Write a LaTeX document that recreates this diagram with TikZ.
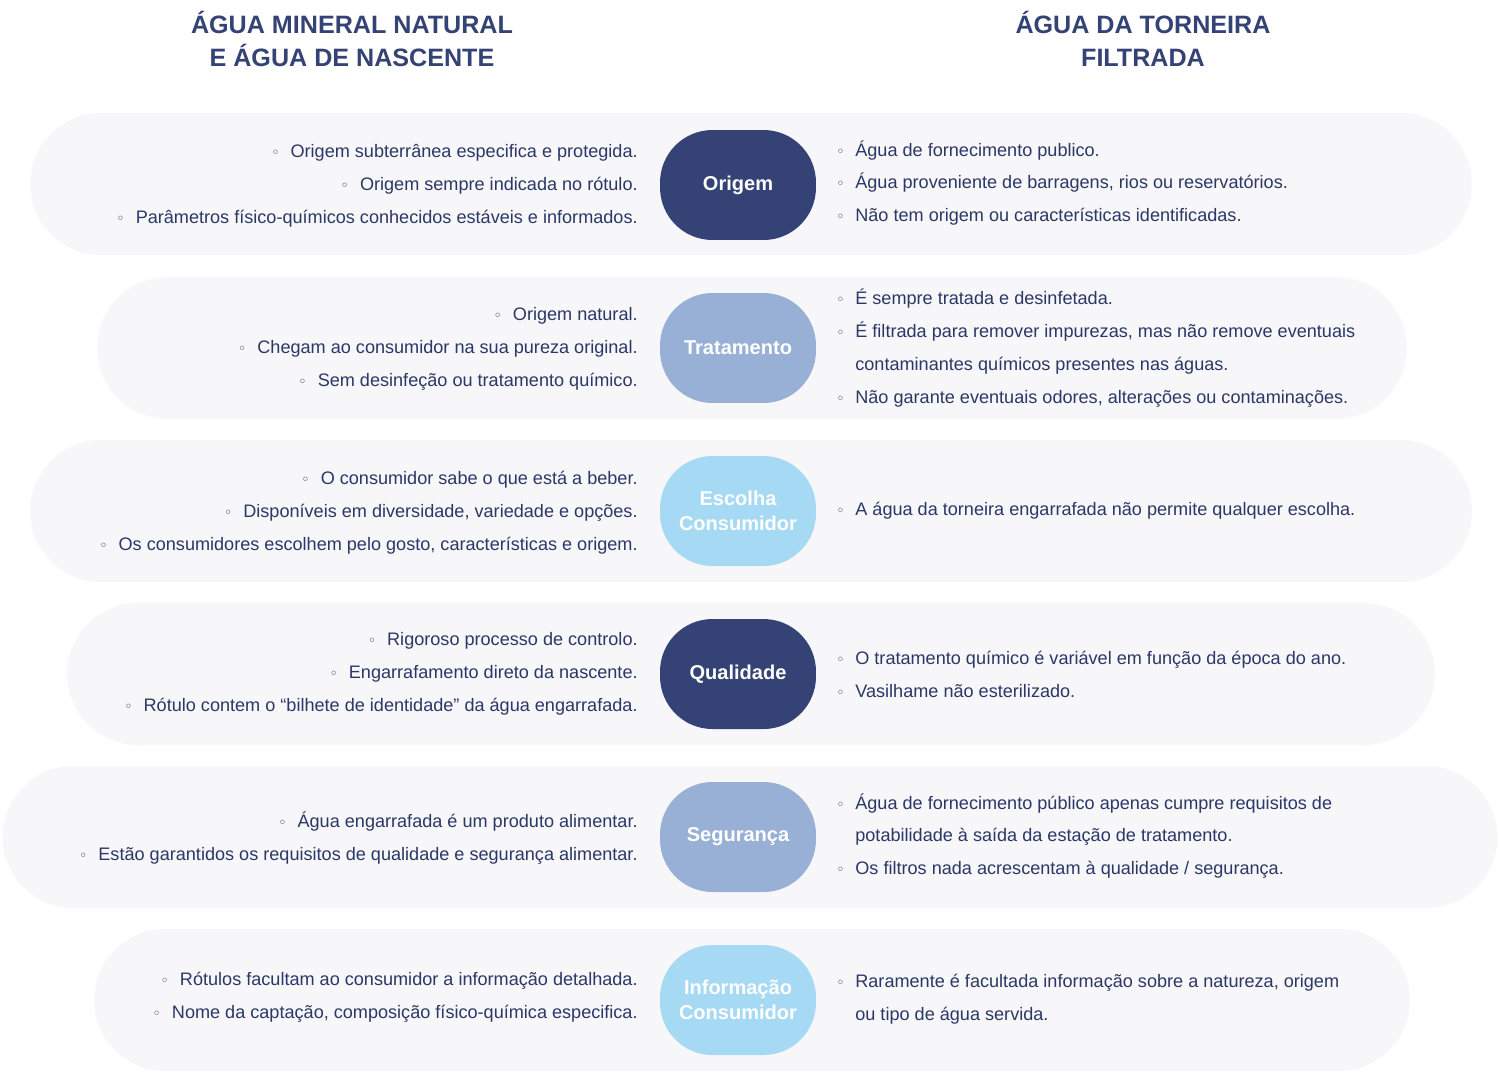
\documentclass[tikz,border=0pt]{standalone}
\usepackage{fontspec}
\setmainfont{Liberation Sans}
\newfontfamily\bulfont{DejaVu Sans}
\usetikzlibrary{positioning}

\definecolor{navy}{HTML}{344275}
\definecolor{steel}{HTML}{98B0D6}
\definecolor{sky}{HTML}{A6D9F3}
\definecolor{pillgray}{HTML}{F7F7FA}
\definecolor{txtnavy}{HTML}{2B3766}

% small open bullet
\newcommand{\bul}{{\bulfont\fontsize{8}{8}\selectfont ◦}}
\newcommand{\lbul}{\bul\hspace{0.22cm}}
\newcommand{\rbul}{\makebox[0.38cm][l]{\bul}}
\newcommand{\rgap}{\hspace*{0.38cm}}

\begin{document}
\begin{tikzpicture}[x=0.02cm, y=-0.02cm,
  pill/.style={fill=pillgray, rounded corners=1.42cm, minimum height=2.84cm, inner sep=0pt},
  topic/.style={rounded corners=1.05cm, minimum width=3.12cm, minimum height=2.2cm, inner sep=0pt,
    text=white, align=center, font=\fontsize{11.4}{14.2}\selectfont\bfseries},
  lefttxt/.style={anchor=east, align=right, inner sep=0pt, text=txtnavy, font=\fontsize{10.3}{18.7}\selectfont},
  righttxt/.style={anchor=west, align=left, inner sep=0pt, text=txtnavy, font=\fontsize{10.3}{18.7}\selectfont},
  heading/.style={align=center, text=navy, font=\fontsize{14.3}{18.7}\selectfont\bfseries}]
\useasboundingbox[fill=white] (0,0) rectangle (1500,1079);

% column headings
\node[heading] (headL) at (352,39) {ÁGUA MINERAL NATURAL\\E ÁGUA DE NASCENTE};
\node[heading] (headR) at (1143,39) {ÁGUA DA TORNEIRA\\FILTRADA};

% background bands
\node[pill, minimum width=28.84cm] (band1) at (751,184) {};
\node[pill, minimum width=26.2cm] (band2) at (752,348) {};
\node[pill, minimum width=28.84cm] (band3) at (751,511) {};
\node[pill, minimum width=27.36cm] (band4) at (751,674) {};
\node[pill, minimum width=29.9cm] (band5) at (750,837) {};
\node[pill, minimum width=26.32cm] (band6) at (752,1000) {};

% topics
\node[topic, fill=navy] (origem) at (738,185) {Origem};
\node[topic, fill=steel] (tratamento) at (738,348) {Tratamento};
\node[topic, fill=sky] (escolha) at (738,511) {Escolha\\Consumidor};
\node[topic, fill=navy] (qualidade) at (738,674) {Qualidade};
\node[topic, fill=steel] (seguranca) at (738,837) {Segurança};
\node[topic, fill=sky] (informacao) at (738,1000) {Informação\\Consumidor};

% mineral water side
\node[lefttxt] (origemL) at (638,186) {\lbul Origem subterrânea especifica e protegida.\\
  \lbul Origem sempre indicada no rótulo.\\
  \lbul Parâmetros físico-químicos conhecidos estáveis e informados.};
\node[lefttxt] (tratamentoL) at (638,349) {\lbul Origem natural.\\
  \lbul Chegam ao consumidor na sua pureza original.\\
  \lbul Sem desinfeção ou tratamento químico.};
\node[lefttxt] (escolhaL) at (638,513) {\lbul O consumidor sabe o que está a beber.\\
  \lbul Disponíveis em diversidade, variedade e opções.\\
  \lbul Os consumidores escolhem pelo gosto, características e origem.};
\node[lefttxt] (qualidadeL) at (638,674) {\lbul Rigoroso processo de controlo.\\
  \lbul Engarrafamento direto da nascente.\\
  \lbul Rótulo contem o “bilhete de identidade” da água engarrafada.};
\node[lefttxt] (segurancaL) at (638,838) {\lbul Água engarrafada é um produto alimentar.\\
  \lbul Estão garantidos os requisitos de qualidade e segurança alimentar.};
\node[lefttxt] (informacaoL) at (638,997) {\lbul Rótulos facultam ao consumidor a informação detalhada.\\
  \lbul Nome da captação, composição físico-química especifica.};

% tap water side
\node[righttxt] (origemR) at (836,183) {\rbul Água de fornecimento publico.\\
  \rbul Água proveniente de barragens, rios ou reservatórios.\\
  \rbul Não tem origem ou características identificadas.};
\node[righttxt] (tratamentoR) at (836,348) {\rbul É sempre tratada e  desinfetada.\\
  \rbul É filtrada para remover impurezas, mas não remove eventuais\\
  \rgap contaminantes químicos  presentes nas águas.\\
  \rbul Não garante eventuais odores, alterações ou contaminações.};
\node[righttxt] (escolhaR) at (836,511) {\rbul A água da torneira engarrafada não permite qualquer escolha.};
\node[righttxt] (qualidadeR) at (836,674) {\rbul O tratamento químico é variável em função da época do ano.\\
  \rbul Vasilhame não esterilizado.};
\node[righttxt] (segurancaR) at (836,836) {\rbul Água de fornecimento público apenas cumpre requisitos de\\
  \rgap potabilidade à saída da estação de tratamento.\\
  \rbul Os filtros nada acrescentam à qualidade / segurança.};
\node[righttxt] (informacaoR) at (836,999) {\rbul Raramente é facultada informação sobre a natureza, origem\\
  \rgap ou tipo de água servida.};
\end{tikzpicture}
\end{document}
